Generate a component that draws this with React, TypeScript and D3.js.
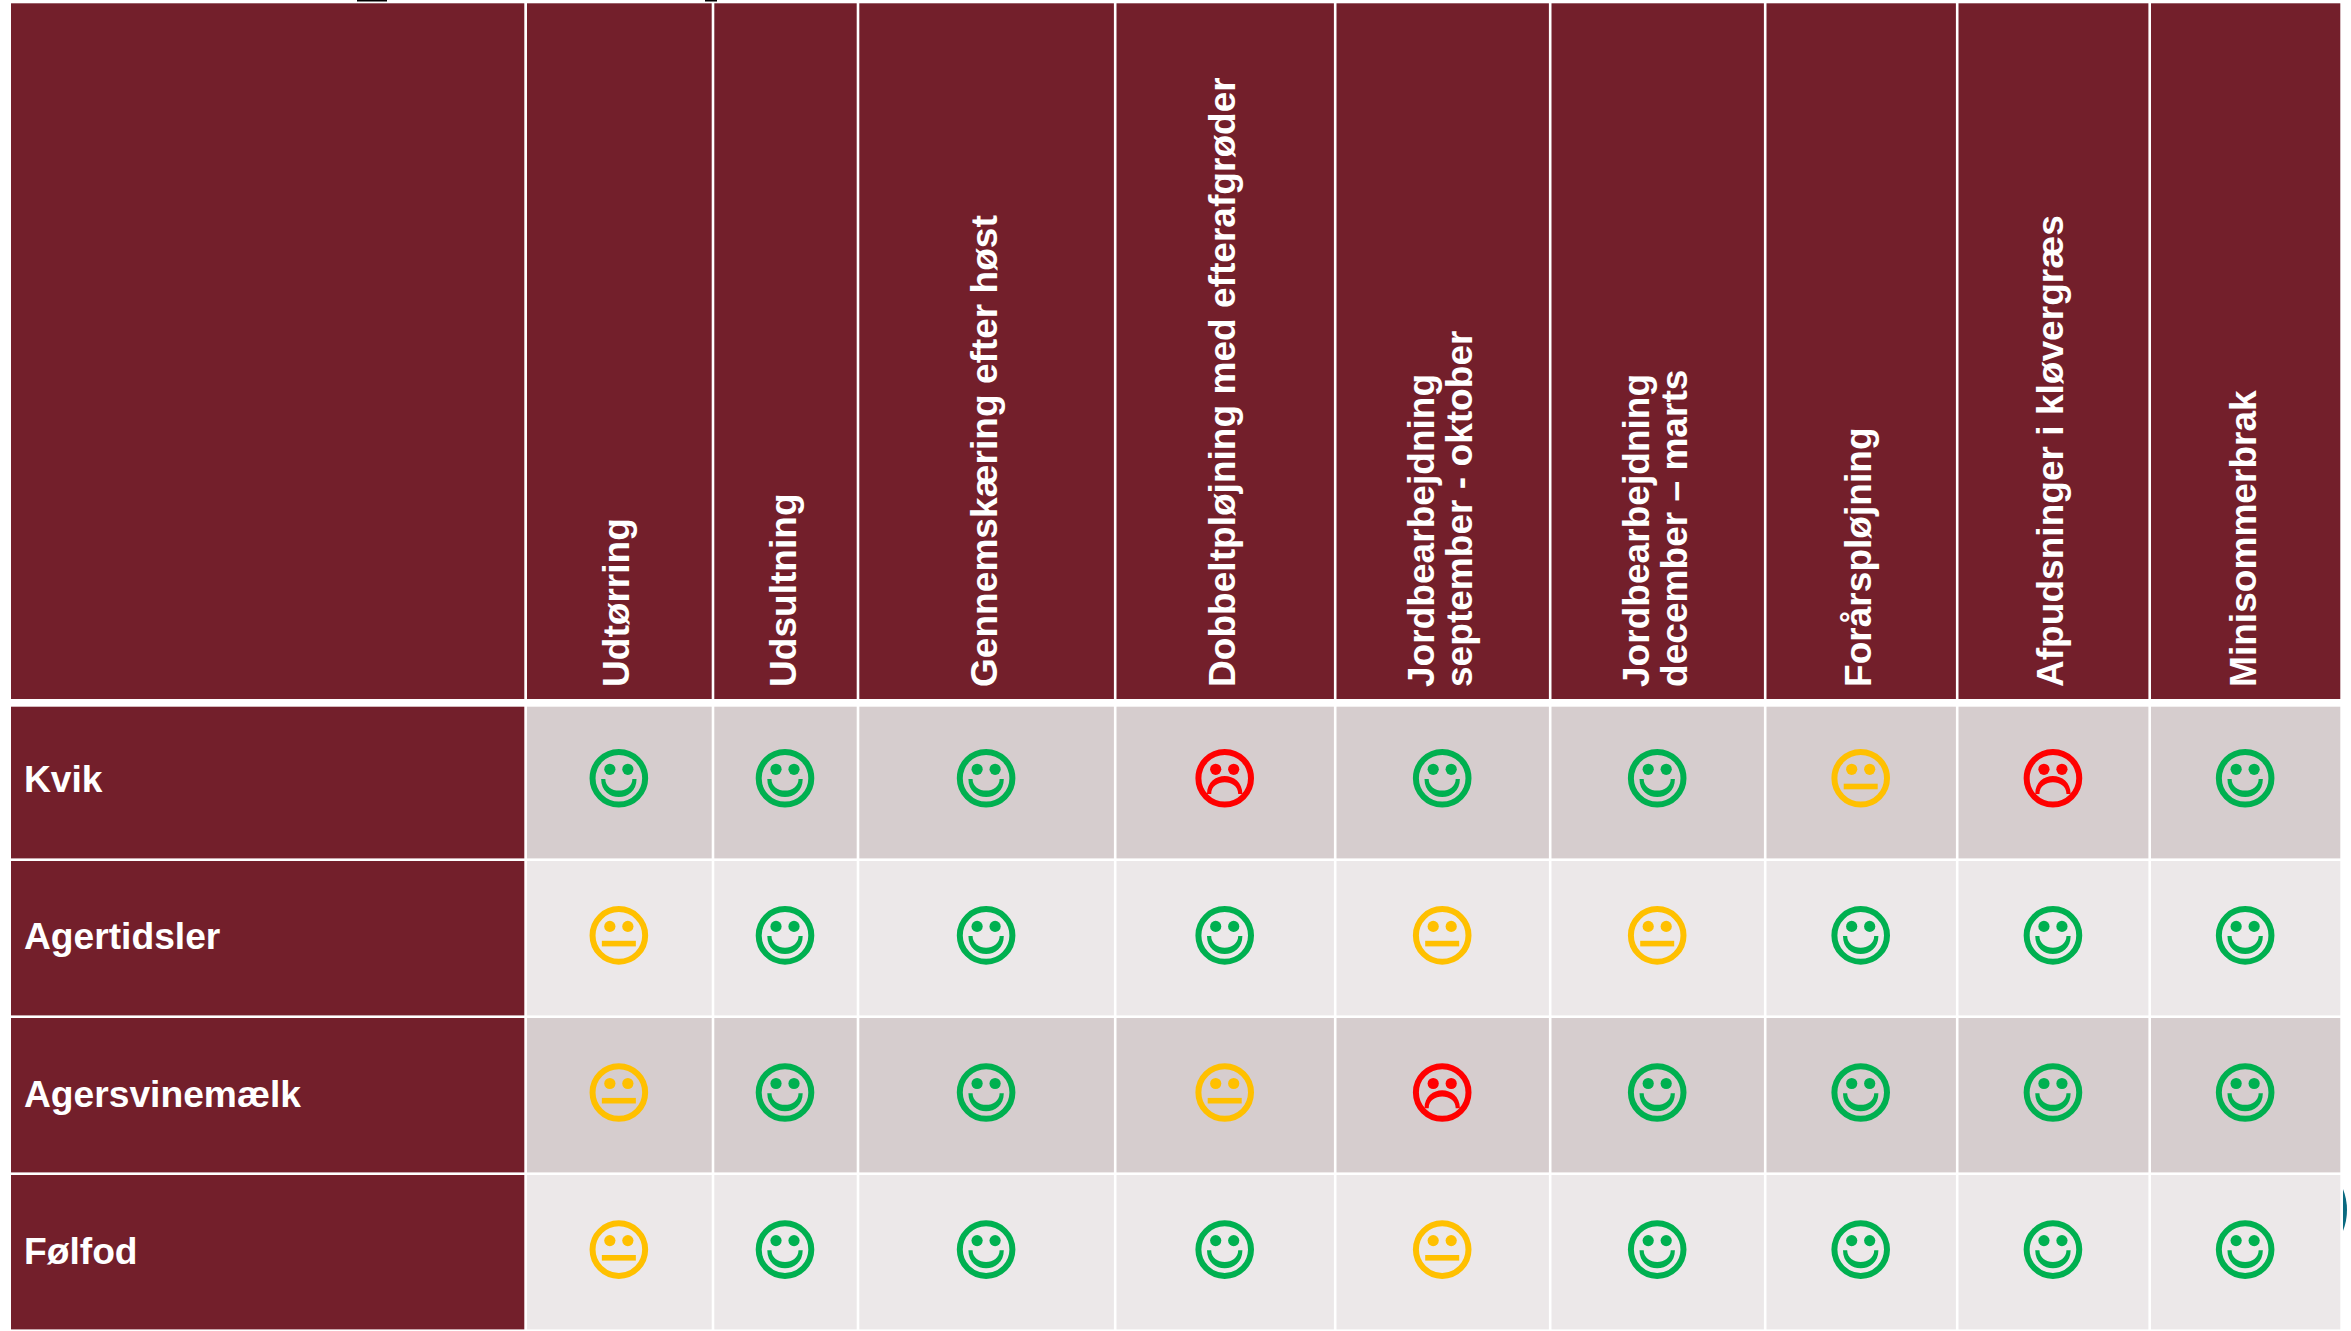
import React, { useEffect, useRef } from 'react';
import * as d3 from 'd3';

const svgWidth = 2351;
const svgHeight = 1331;

// 1 = glad, 0 = neutral, -1 = sur
const rowLabels = ['Kvik', 'Agertidsler', 'Agersvinemælk', 'Følfod'];
const columnLabels = [
  ['Udtørring'],
  ['Udsultning'],
  ['Gennemskæring efter høst'],
  ['Dobbeltpløjning med efterafgrøder'],
  ['Jordbearbejdning', 'september - oktober'],
  ['Jordbearbejdning', 'december – marts'],
  ['Forårspløjning'],
  ['Afpudsninger i kløvergræs'],
  ['Minisommerbrak'],
];
const kvik = [1, 1, 1, -1, 1, 1, 0, -1, 1];
const agertidsler = [0, 1, 1, 1, 0, 0, 1, 1, 1];
const agersvinemaelk = [0, 1, 1, 0, -1, 1, 1, 1, 1];
const folfod = [0, 1, 1, 1, 0, 1, 1, 1, 1];
const ratings = [kvik, agertidsler, agersvinemaelk, folfod];

const gap = 2.6;
const columnEdges = [527, 714.3, 859.3, 1116.5, 1336.5, 1551.5, 1766.5, 1958.5, 2151, 2342.9];
const rowEdges = [706.7, 861, 1018, 1175, 1332];

const colors = { header: '#731f2b', dark: '#d6cdce', light: '#ece8e9' };
const faceColor = d3.scaleOrdinal<number, string>().domain([1, 0, -1]).range(['#00b050', '#ffc000', '#ff0000']);
const font = '"Liberation Sans", Arial, sans-serif';

// mund som halvmaane, sign=1 smil, sign=-1 surt
const mouth = (sign: number) => {
  const top = sign > 0 ? 0.7 : 15.7;
  const p = d3.path();
  p.moveTo(-17.7, top);
  p.bezierCurveTo(-17.7, top + sign * 24, 17.7, top + sign * 24, 17.7, top);
  p.lineTo(13.5, top);
  p.bezierCurveTo(13.5, top + sign * 15.5, -13.5, top + sign * 15.5, -13.5, top);
  p.closePath();
  return p.toString();
};

const App = () => {
  const chartRef = useRef<SVGSVGElement>(null);

  useEffect(() => {
    const svg = d3.select(chartRef.current);
    svg.selectAll('*').remove();

    // rester af teksten over tabellen
    svg.append('rect').attr('x', 357).attr('y', 0).attr('width', 30).attr('height', 1.5).attr('fill', '#000');
    svg.append('rect').attr('x', 705).attr('y', 0).attr('width', 12).attr('height', 1.5).attr('fill', '#000');

    // kanten af en cirkel til hoejre for tabellen
    svg
      .append('clipPath')
      .attr('id', 'edge-clip')
      .append('rect')
      .attr('x', 2343)
      .attr('y', 1170)
      .attr('width', 8)
      .attr('height', 80);
    svg
      .append('circle')
      .attr('cx', 2290)
      .attr('cy', 1210)
      .attr('r', 57)
      .attr('fill', '#0b6a80')
      .attr('clip-path', 'url(#edge-clip)');

    // venstre kolonne
    svg.append('rect').attr('x', 11).attr('y', 3.3).attr('width', 513.3).attr('height', 695.7).attr('fill', colors.header);

    const bands = columnLabels.map((_, i) => i);
    const x = d3.scaleOrdinal<number, number>().domain(bands).range(columnEdges.slice(0, -1));
    const colWidth = (i: number) => columnEdges[i + 1] - columnEdges[i] - gap;
    const faceY = d3.scaleLinear().domain([0, 3]).range([778.3, 1249.6]);

    const head = svg.append('g');
    head
      .selectAll('rect')
      .data(bands)
      .enter()
      .append('rect')
      .attr('x', d => x(d))
      .attr('y', 3.3)
      .attr('width', d => colWidth(d))
      .attr('height', 695.7)
      .attr('fill', colors.header);

    head
      .selectAll('g')
      .data(bands)
      .enter()
      .append('g')
      .attr('transform', d => `translate(${x(d) + colWidth(d) / 2}, 687) rotate(-90)`)
      .each(function (d) {
        const lines = columnLabels[d];
        d3.select(this)
          .selectAll('text')
          .data(lines)
          .enter()
          .append('text')
          .attr('x', 0)
          .attr('y', (_, i) => (i - (lines.length - 1) / 2) * 38 + 10)
          .attr('fill', '#fff')
          .attr('font-family', font)
          .attr('font-weight', 700)
          .attr('font-size', 37.1)
          .text(l => l);
      });

    ratings.forEach((row, r) => {
      const y0 = rowEdges[r];
      const h = rowEdges[r + 1] - y0 - gap;
      const g = svg.append('g');
      g.append('rect').attr('x', 11).attr('y', y0).attr('width', 513.3).attr('height', h).attr('fill', colors.header);
      g.append('text')
        .attr('x', 24)
        .attr('y', faceY(r) + 14)
        .attr('fill', '#fff')
        .attr('font-family', font)
        .attr('font-weight', 700)
        .attr('font-size', 37.2)
        .text(rowLabels[r]);

      g.selectAll('rect.cell')
        .data(row)
        .enter()
        .append('rect')
        .attr('class', 'cell')
        .attr('x', (_, i) => x(i))
        .attr('y', y0)
        .attr('width', (_, i) => colWidth(i))
        .attr('height', h)
        .attr('fill', r % 2 === 0 ? colors.dark : colors.light);

      const faces = g
        .selectAll('g.face')
        .data(row)
        .enter()
        .append('g')
        .attr('class', 'face')
        .attr('transform', (_, i) => `translate(${x(i) + colWidth(i) / 2 - 0.5}, ${faceY(r)})`);

      faces
        .append('circle')
        .attr('r', 26.3)
        .attr('fill', 'none')
        .attr('stroke-width', 6)
        .attr('stroke', d => faceColor(d));
      faces.append('circle').attr('cx', -9).attr('cy', -9).attr('r', 5.6).attr('fill', d => faceColor(d));
      faces.append('circle').attr('cx', 9).attr('cy', -9).attr('r', 5.6).attr('fill', d => faceColor(d));
      faces
        .filter(d => d === 0)
        .append('rect')
        .attr('x', -17)
        .attr('y', 5.4)
        .attr('width', 34)
        .attr('height', 5.6)
        .attr('fill', d => faceColor(d));
      faces
        .filter(d => d !== 0)
        .append('path')
        .attr('d', d => mouth(d))
        .attr('fill', d => faceColor(d));
    });
  }, []);

  return (
    <svg
      ref={chartRef}
      width={svgWidth}
      height={svgHeight}
      style={{ position: 'absolute', left: 0, top: 0, background: '#fff' }}
    />
  );
};

export default App;
